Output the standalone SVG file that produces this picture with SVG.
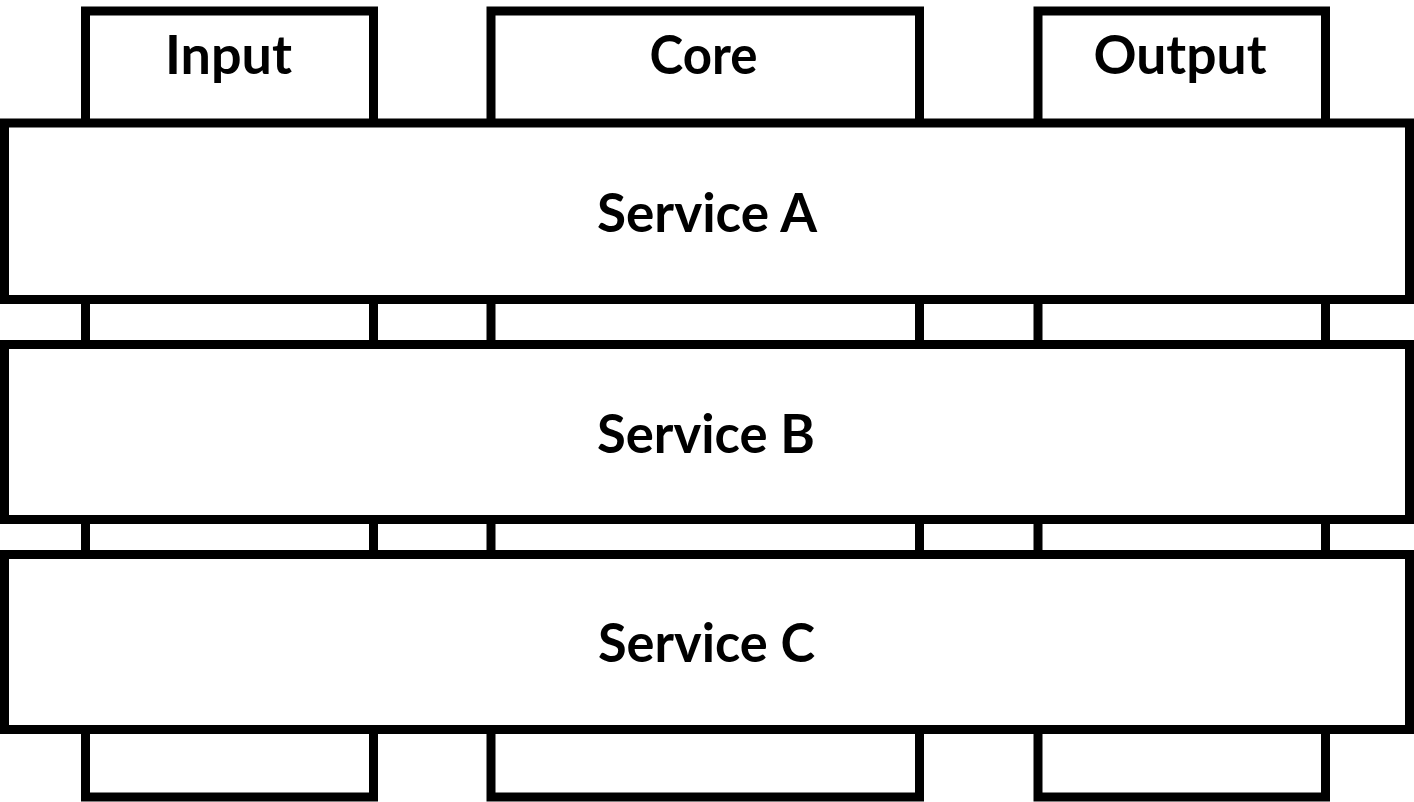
<svg xmlns="http://www.w3.org/2000/svg" width="1414" height="802" viewBox="0 0 1414 802">
<style>
.box{fill:#fff;stroke:#000;stroke-width:9}
.lbl{font-family:Lato,"Open Sans","Liberation Sans",sans-serif;font-weight:bold;font-size:54px;fill:#000;text-anchor:middle}
</style>
<rect width="1414" height="802" fill="#fff"/>
<g id="col-input"><rect class="box" x="85.5" y="11" width="288" height="786"/><text class="lbl" x="228.5" y="74" textLength="127" lengthAdjust="spacingAndGlyphs">Input</text></g>
<g id="col-core"><rect class="box" x="491" y="11" width="428.5" height="786"/><text class="lbl" x="703.5" y="74" textLength="108" lengthAdjust="spacingAndGlyphs">Core</text></g>
<g id="col-output"><rect class="box" x="1038" y="11" width="287.5" height="786"/><text class="lbl" x="1180" y="74" textLength="173" lengthAdjust="spacingAndGlyphs">Output</text></g>
<g id="service-a"><rect class="box" x="4.5" y="123" width="1405" height="176.5"/><text class="lbl" x="707" y="232" textLength="220" lengthAdjust="spacingAndGlyphs">Service A</text></g>
<g id="service-b"><rect class="box" x="4.5" y="344.5" width="1405" height="175"/><text class="lbl" x="706" y="453" textLength="218" lengthAdjust="spacingAndGlyphs">Service B</text></g>
<g id="service-c"><rect class="box" x="4.5" y="554.5" width="1405" height="175"/><text class="lbl" x="706.5" y="662" textLength="217" lengthAdjust="spacingAndGlyphs">Service C</text></g>
<g id="connectors"></g>
</svg>
